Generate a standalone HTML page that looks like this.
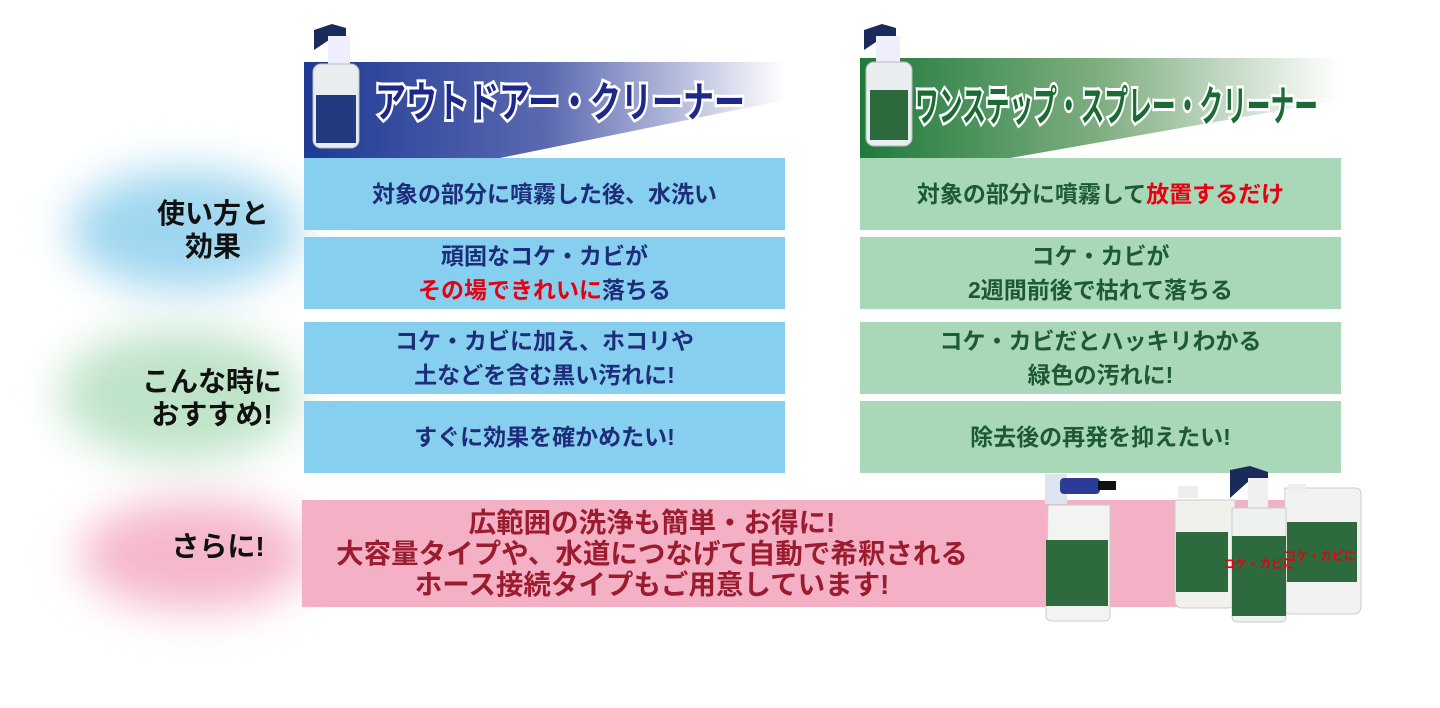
<!DOCTYPE html>
<html><head><meta charset="utf-8"><style>
html,body{margin:0;padding:0;background:#fff;}
body{width:1440px;height:708px;overflow:hidden;position:relative;font-family:"Liberation Sans","Noto Sans CJK JP",sans-serif;}
.b{position:absolute;display:flex;align-items:center;justify-content:center;text-align:center;font-weight:bold;font-size:23px;line-height:34px;}
.bl{background:#87cfee;color:#1e2d7a;left:304px;width:481px;}
.gr{background:#a8d8b7;color:#1d5a33;left:860px;width:481px;}
.r{color:#e60012;}
.lab{position:absolute;font-size:28px;font-weight:bold;color:#111;text-align:center;line-height:33px;}
.glow{position:absolute;border-radius:50%;filter:blur(22px);}
</style></head><body>
<div class="glow" style="left:70px;top:170px;width:230px;height:120px;background:#9fd6ef;"></div>
<div class="glow" style="left:60px;top:330px;width:240px;height:130px;background:#bfe3c8;"></div>
<div class="glow" style="left:80px;top:500px;width:230px;height:110px;background:#f5b7cb;"></div>
<div class="lab" style="left:113px;top:197px;width:200px;">使い方と<br>効果</div>
<div class="lab" style="left:112px;top:365px;width:200px;">こんな時に<br>おすすめ!</div>
<div class="lab" style="left:118px;top:530px;width:200px;">さらに!</div>

<svg style="position:absolute;left:0;top:0" width="1440" height="708">
<defs>
<linearGradient id="gb" x1="0" x2="1"><stop offset="0" stop-color="#1e3a94"/><stop offset="0.5" stop-color="#5a68b0"/><stop offset="1" stop-color="#fff"/></linearGradient>
<linearGradient id="gg" x1="0" x2="1"><stop offset="0" stop-color="#1f7a3c"/><stop offset="0.5" stop-color="#7fae80"/><stop offset="1" stop-color="#fff"/></linearGradient>
</defs>
<polygon points="304,62 785,62 785,100 500,158 304,158" fill="url(#gb)"/>
<polygon points="860,58 1340,58 1340,100 1010,158 860,158" fill="url(#gg)"/>
<text x="375" y="117" font-size="42" font-weight="bold" fill="#1e2888" stroke="#fff" stroke-width="6" paint-order="stroke" font-family="Liberation Sans,Noto Sans CJK JP,sans-serif" textLength="370" lengthAdjust="spacingAndGlyphs">アウトドアー・クリーナー</text>
<text x="915" y="121" font-size="42" font-weight="bold" fill="#1b6b35" stroke="#fff" stroke-width="6" paint-order="stroke" font-family="Liberation Sans,Noto Sans CJK JP,sans-serif" textLength="403" lengthAdjust="spacingAndGlyphs">ワンステップ・スプレー・クリーナー</text>
<g><path d="M314 30 l18 -6 l14 4 l0 10 l-14 0 l-18 12 z" fill="#1a2a5a"/><rect x="328" y="36" width="22" height="30" fill="#eef"/><rect x="313" y="64" width="46" height="84" rx="8" fill="#e8eef0" stroke="#bbb"/><rect x="316" y="95" width="40" height="48" fill="#233a80"/></g>
<g><path d="M864 30 l18 -6 l14 4 l0 10 l-14 0 l-18 12 z" fill="#1a2a5a"/><rect x="876" y="36" width="24" height="30" fill="#eef"/><rect x="866" y="62" width="46" height="84" rx="8" fill="#e8eef0" stroke="#bbb"/><rect x="870" y="90" width="38" height="50" fill="#2c6a3e"/></g>
</svg>

<div class="b bl" style="top:158px;height:72px;"><div>対象の部分に噴霧した後、水洗い</div></div>
<div class="b bl" style="top:237px;height:72px;"><div>頑固なコケ・カビが<br><span class="r">その場できれいに</span>落ちる</div></div>
<div class="b bl" style="top:322px;height:72px;"><div>コケ・カビに加え、ホコリや<br>土などを含む黒い汚れに!</div></div>
<div class="b bl" style="top:401px;height:72px;"><div>すぐに効果を確かめたい!</div></div>
<div class="b gr" style="top:158px;height:72px;"><div>対象の部分に噴霧して<span class="r">放置するだけ</span></div></div>
<div class="b gr" style="top:237px;height:72px;"><div>コケ・カビが<br>2週間前後で枯れて落ちる</div></div>
<div class="b gr" style="top:322px;height:72px;"><div>コケ・カビだとハッキリわかる<br>緑色の汚れに!</div></div>
<div class="b gr" style="top:401px;height:72px;"><div>除去後の再発を抑えたい!</div></div>
<div class="b" style="left:302px;top:500px;width:1043px;height:107px;background:#f4b0c5;color:#9b1c2e;font-size:27.5px;line-height:31px;justify-content:flex-start;"><div style="width:700px;">広範囲の洗浄も簡単・お得に!<br>大容量タイプや、水道につなげて自動で希釈される<br>ホース接続タイプもご用意しています!</div></div>

<svg style="position:absolute;left:0;top:0" width="1440" height="708">
<rect x="1045" y="474" width="22" height="30" fill="#dde4f0"/><rect x="1060" y="478" width="40" height="16" rx="4" fill="#2a3c95"/><rect x="1098" y="481" width="18" height="9" fill="#111"/>
<path d="M1048 505 h62 v110 q0 6 -6 6 h-52 q-6 0 -6 -6 z" fill="#f2f4f2" stroke="#ccc"/>
<rect x="1046" y="540" width="62" height="66" fill="#2d6a3d"/>
<rect x="1178" y="486" width="20" height="12" fill="#eee"/>
<path d="M1175 500 h60 v100 q0 8 -8 8 h-44 q-8 0 -8 -8 z" fill="#f0f0ec" stroke="#ccc"/>
<rect x="1176" y="532" width="52" height="60" fill="#2d6a3d"/>
<path d="M1285 488 h70 q6 0 6 6 v112 q0 8 -8 8 h-62 q-8 0 -8 -8 z" fill="#f2f2f2" stroke="#ccc"/>
<rect x="1288" y="484" width="18" height="10" fill="#eee"/>
<rect x="1287" y="522" width="70" height="60" fill="#2d6a3d"/>
<path d="M1230 470 l20 -4 l18 6 l0 8 l-18 0 l-20 18 z" fill="#1a2a5a"/>
<rect x="1248" y="478" width="20" height="30" fill="#f0f0f0"/>
<path d="M1232 508 h54 v108 q0 6 -6 6 h-42 q-6 0 -6 -6 z" fill="#eef2ee" stroke="#ccc"/>
<rect x="1232" y="536" width="54" height="80" fill="#2d6a3d"/>
<text x="1259" y="568" text-anchor="middle" font-size="12" font-weight="bold" fill="#e60012" font-family="Liberation Sans,Noto Sans CJK JP,sans-serif">コケ・カビに</text>
<text x="1320" y="560" text-anchor="middle" font-size="12" font-weight="bold" fill="#e60012" font-family="Liberation Sans,Noto Sans CJK JP,sans-serif">コケ・カビに</text>
</svg>
</body></html>
